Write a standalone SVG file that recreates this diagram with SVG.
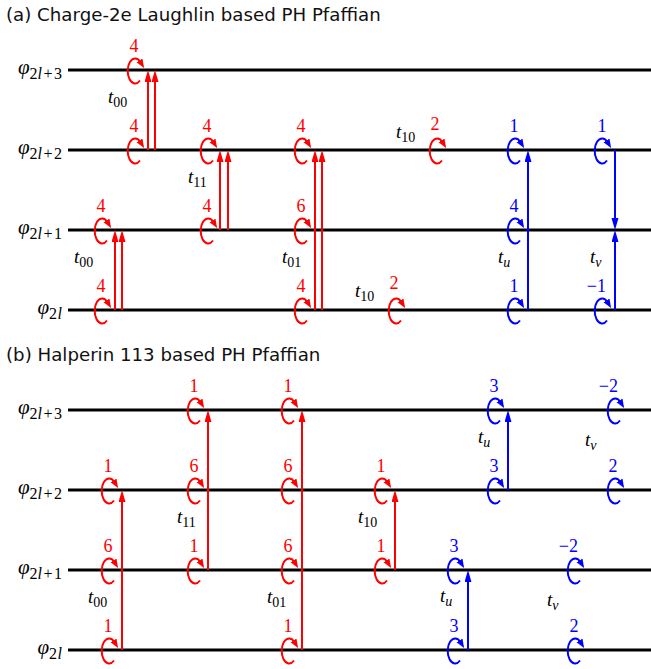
<svg xmlns="http://www.w3.org/2000/svg" width="651" height="669" viewBox="0 0 651 669">
<style>
  .ttl{font-family:"DejaVu Sans",Verdana,sans-serif;font-size:18.2px;fill:#111}
  .lvl{stroke:#000;stroke-width:3}
  .m{font-family:"Liberation Serif","DejaVu Serif","Times New Roman",serif;font-size:19px;fill:#000}
  .ph{font-family:"Liberation Serif","DejaVu Serif","Times New Roman",serif;font-size:21px;fill:#000;text-anchor:end}
  .it{font-style:italic}
  .sub{font-size:14px}
  .sp{font-size:16px}
  .nr{font-family:"Liberation Serif","DejaVu Serif","Times New Roman",serif;font-size:18px;fill:#f00;text-anchor:middle}
  .nb{font-family:"Liberation Serif","DejaVu Serif","Times New Roman",serif;font-size:18px;fill:#00f;text-anchor:middle}
  .neg{text-anchor:end}
  .lr{fill:none;stroke:#f00;stroke-width:2;marker-end:url(#hr)}
  .lb{fill:none;stroke:#00f;stroke-width:2;marker-end:url(#hb)}
  .ar{fill:none;stroke:#f00;stroke-width:2;marker-end:url(#vr)}
  .ab{fill:none;stroke:#00f;stroke-width:2;marker-end:url(#vb)}
</style>
<defs>
  <!-- heads for the self loops -->
  <marker id="hr" markerUnits="userSpaceOnUse" markerWidth="10" markerHeight="8" refX="2" refY="3.5" orient="auto"><path d="M0,0 L9,3.5 L0,7 z" fill="#f00"/></marker>
  <marker id="hb" markerUnits="userSpaceOnUse" markerWidth="10" markerHeight="8" refX="2" refY="3.5" orient="auto"><path d="M0,0 L9,3.5 L0,7 z" fill="#00f"/></marker>
  <!-- heads for the hopping arrows -->
  <marker id="vr" markerUnits="userSpaceOnUse" markerWidth="13" markerHeight="8" refX="6" refY="3.5" orient="auto"><path d="M0,0 L12,3.5 L0,7 z" fill="#f00"/></marker>
  <marker id="vb" markerUnits="userSpaceOnUse" markerWidth="13" markerHeight="8" refX="6" refY="3.5" orient="auto"><path d="M0,0 L12,3.5 L0,7 z" fill="#00f"/></marker>
</defs>

<!-- ===== Panel (a) ===== -->
<text class="ttl" x="6" y="21">(a) Charge-2e Laughlin based PH Pfaffian</text>

<g id="a-levels">
  <line class="lvl" x1="68" y1="70" x2="651" y2="70"/>
  <line class="lvl" x1="68" y1="150" x2="651" y2="150"/>
  <line class="lvl" x1="68" y1="230" x2="651" y2="230"/>
  <line class="lvl" x1="68" y1="310" x2="651" y2="310"/>
  <text class="ph" x="62" y="74"><tspan class="it">φ</tspan><tspan class="sp" dy="5">2<tspan class="it">l</tspan><tspan dx="1.5">+</tspan><tspan dx="1.5">3</tspan></tspan></text>
  <text class="ph" x="62" y="154"><tspan class="it">φ</tspan><tspan class="sp" dy="5">2<tspan class="it">l</tspan><tspan dx="1.5">+</tspan><tspan dx="1.5">2</tspan></tspan></text>
  <text class="ph" x="62" y="234"><tspan class="it">φ</tspan><tspan class="sp" dy="5">2<tspan class="it">l</tspan><tspan dx="1.5">+</tspan><tspan dx="1.5">1</tspan></tspan></text>
  <text class="ph" x="62" y="314"><tspan class="it">φ</tspan><tspan class="sp" dy="5">2<tspan class="it" dx="0.5">l</tspan></tspan></text>
</g>

<g id="a-loops">
  <path class="lr" d="M140,80.5 a7.5 12.5 0 1 1 0.5 -18.4"/><text class="nr" x="134" y="52">4</text>
  <path class="lr" d="M140,160.5 a7.5 12.5 0 1 1 0.5 -18.4"/><text class="nr" x="134" y="132">4</text>
  <path class="lr" d="M213,160.5 a7.5 12.5 0 1 1 0.5 -18.4"/><text class="nr" x="207" y="132">4</text>
  <path class="lr" d="M307,160.5 a7.5 12.5 0 1 1 0.5 -18.4"/><text class="nr" x="301" y="132">4</text>
  <path class="lr" d="M442,160.5 a7.5 12.5 0 1 1 0.5 -18.4"/><text class="nr" x="435" y="130">2</text>
  <path class="lb" d="M520,160.5 a7.5 12.5 0 1 1 0.5 -18.4"/><text class="nb" x="514" y="132">1</text>
  <path class="lb" d="M607,160.5 a7.5 12.5 0 1 1 0.5 -18.4"/><text class="nb" x="602" y="132">1</text>
  <path class="lr" d="M107,240.5 a7.5 12.5 0 1 1 0.5 -18.4"/><text class="nr" x="101" y="212">4</text>
  <path class="lr" d="M213,240.5 a7.5 12.5 0 1 1 0.5 -18.4"/><text class="nr" x="207" y="212">4</text>
  <path class="lr" d="M307,240.5 a7.5 12.5 0 1 1 0.5 -18.4"/><text class="nr" x="301" y="212">6</text>
  <path class="lb" d="M520,240.5 a7.5 12.5 0 1 1 0.5 -18.4"/><text class="nb" x="514" y="212">4</text>
  <path class="lr" d="M107,320.5 a7.5 12.5 0 1 1 0.5 -18.4"/><text class="nr" x="101" y="292">4</text>
  <path class="lr" d="M307,320.5 a7.5 12.5 0 1 1 0.5 -18.4"/><text class="nr" x="301" y="292">4</text>
  <path class="lr" d="M401,320.5 a7.5 12.5 0 1 1 0.5 -18.4"/><text class="nr" x="394" y="289">2</text>
  <path class="lb" d="M520,320.5 a7.5 12.5 0 1 1 0.5 -18.4"/><text class="nb" x="514" y="292">1</text>
  <path class="lb" d="M607,320.5 a7.5 12.5 0 1 1 0.5 -18.4"/><text class="nb neg" x="606" y="292">−1</text>
</g>

<g id="a-hops">
  <path class="ar" d="M148,150 V76"/><path class="ar" d="M155,150 V76"/>
  <path class="ar" d="M220,230 V156"/><path class="ar" d="M228,230 V156"/>
  <path class="ar" d="M315,310 V156"/><path class="ar" d="M322,310 V156"/>
  <path class="ar" d="M115,310 V236"/><path class="ar" d="M122,310 V236"/>
  <path class="ab" d="M528,310 V156"/>
  <path class="ab" d="M615,150 V224"/>
  <path class="ab" d="M615,310 V236"/>
</g>

<g id="a-labels">
  <text class="m" x="108" y="103"><tspan class="it">t</tspan><tspan class="sub" dy="4">00</tspan></text>
  <text class="m" x="74" y="263"><tspan class="it">t</tspan><tspan class="sub" dy="4">00</tspan></text>
  <text class="m" x="188" y="183"><tspan class="it">t</tspan><tspan class="sub" dy="4">11</tspan></text>
  <text class="m" x="282" y="263"><tspan class="it">t</tspan><tspan class="sub" dy="4">01</tspan></text>
  <text class="m" x="355" y="297"><tspan class="it">t</tspan><tspan class="sub" dy="4">10</tspan></text>
  <text class="m" x="396" y="138"><tspan class="it">t</tspan><tspan class="sub" dy="4">10</tspan></text>
  <text class="m" x="498" y="263"><tspan class="it">t</tspan><tspan class="sub it" dy="4">u</tspan></text>
  <text class="m" x="590" y="263"><tspan class="it">t</tspan><tspan class="sub it" dy="4">v</tspan></text>
</g>

<!-- ===== Panel (b) ===== -->
<text class="ttl" x="6" y="361">(b) Halperin 113 based PH Pfaffian</text>

<g id="b-levels">
  <line class="lvl" x1="68" y1="410" x2="651" y2="410"/>
  <line class="lvl" x1="68" y1="490" x2="651" y2="490"/>
  <line class="lvl" x1="68" y1="570" x2="651" y2="570"/>
  <line class="lvl" x1="68" y1="650" x2="651" y2="650"/>
  <text class="ph" x="62" y="414"><tspan class="it">φ</tspan><tspan class="sp" dy="5">2<tspan class="it">l</tspan><tspan dx="1.5">+</tspan><tspan dx="1.5">3</tspan></tspan></text>
  <text class="ph" x="62" y="494"><tspan class="it">φ</tspan><tspan class="sp" dy="5">2<tspan class="it">l</tspan><tspan dx="1.5">+</tspan><tspan dx="1.5">2</tspan></tspan></text>
  <text class="ph" x="62" y="574"><tspan class="it">φ</tspan><tspan class="sp" dy="5">2<tspan class="it">l</tspan><tspan dx="1.5">+</tspan><tspan dx="1.5">1</tspan></tspan></text>
  <text class="ph" x="62" y="654"><tspan class="it">φ</tspan><tspan class="sp" dy="5">2<tspan class="it" dx="0.5">l</tspan></tspan></text>
</g>

<g id="b-loops">
  <path class="lr" d="M200,420.5 a7.5 12.5 0 1 1 0.5 -18.4"/><text class="nr" x="194" y="392">1</text>
  <path class="lr" d="M294,420.5 a7.5 12.5 0 1 1 0.5 -18.4"/><text class="nr" x="288" y="392">1</text>
  <path class="lb" d="M500,420.5 a7.5 12.5 0 1 1 0.5 -18.4"/><text class="nb" x="494" y="392">3</text>
  <path class="lb" d="M620,420.5 a7.5 12.5 0 1 1 0.5 -18.4"/><text class="nb neg" x="618" y="392">−2</text>

  <path class="lr" d="M114,500.5 a7.5 12.5 0 1 1 0.5 -18.4"/><text class="nr" x="108" y="472">1</text>
  <path class="lr" d="M200,500.5 a7.5 12.5 0 1 1 0.5 -18.4"/><text class="nr" x="194" y="472">6</text>
  <path class="lr" d="M294,500.5 a7.5 12.5 0 1 1 0.5 -18.4"/><text class="nr" x="288" y="472">6</text>
  <path class="lr" d="M387,500.5 a7.5 12.5 0 1 1 0.5 -18.4"/><text class="nr" x="381" y="472">1</text>
  <path class="lb" d="M500,500.5 a7.5 12.5 0 1 1 0.5 -18.4"/><text class="nb" x="494" y="472">3</text>
  <path class="lb" d="M620,500.5 a7.5 12.5 0 1 1 0.5 -18.4"/><text class="nb" x="613" y="472">2</text>

  <path class="lr" d="M114,580.5 a7.5 12.5 0 1 1 0.5 -18.4"/><text class="nr" x="108" y="552">6</text>
  <path class="lr" d="M200,580.5 a7.5 12.5 0 1 1 0.5 -18.4"/><text class="nr" x="194" y="552">1</text>
  <path class="lr" d="M294,580.5 a7.5 12.5 0 1 1 0.5 -18.4"/><text class="nr" x="288" y="552">6</text>
  <path class="lr" d="M387,580.5 a7.5 12.5 0 1 1 0.5 -18.4"/><text class="nr" x="381" y="552">1</text>
  <path class="lb" d="M460,580.5 a7.5 12.5 0 1 1 0.5 -18.4"/><text class="nb" x="454" y="552">3</text>
  <path class="lb" d="M580,580.5 a7.5 12.5 0 1 1 0.5 -18.4"/><text class="nb neg" x="578" y="552">−2</text>

  <path class="lr" d="M114,660.5 a7.5 12.5 0 1 1 0.5 -18.4"/><text class="nr" x="108" y="632">1</text>
  <path class="lr" d="M294,660.5 a7.5 12.5 0 1 1 0.5 -18.4"/><text class="nr" x="288" y="632">1</text>
  <path class="lb" d="M460,660.5 a7.5 12.5 0 1 1 0.5 -18.4"/><text class="nb" x="454" y="632">3</text>
  <path class="lb" d="M580,660.5 a7.5 12.5 0 1 1 0.5 -18.4"/><text class="nb" x="574" y="632">2</text>
</g>

<g id="b-hops">
  <path class="ar" d="M122,650 V496"/>
  <path class="ar" d="M208,570 V416"/>
  <path class="ar" d="M302,650 V416"/>
  <path class="ar" d="M395,570 V496"/>
  <path class="ab" d="M508,490 V416"/>
  <path class="ab" d="M468,650 V576"/>
</g>

<g id="b-labels">
  <text class="m" x="88" y="603"><tspan class="it">t</tspan><tspan class="sub" dy="4">00</tspan></text>
  <text class="m" x="177" y="523"><tspan class="it">t</tspan><tspan class="sub" dy="4">11</tspan></text>
  <text class="m" x="267" y="603"><tspan class="it">t</tspan><tspan class="sub" dy="4">01</tspan></text>
  <text class="m" x="358" y="523"><tspan class="it">t</tspan><tspan class="sub" dy="4">10</tspan></text>
  <text class="m" x="478" y="443"><tspan class="it">t</tspan><tspan class="sub it" dy="4">u</tspan></text>
  <text class="m" x="585" y="446"><tspan class="it">t</tspan><tspan class="sub it" dy="4">v</tspan></text>
  <text class="m" x="440" y="602"><tspan class="it">t</tspan><tspan class="sub it" dy="4">u</tspan></text>
  <text class="m" x="547" y="606"><tspan class="it">t</tspan><tspan class="sub it" dy="4">v</tspan></text>
</g>
</svg>
